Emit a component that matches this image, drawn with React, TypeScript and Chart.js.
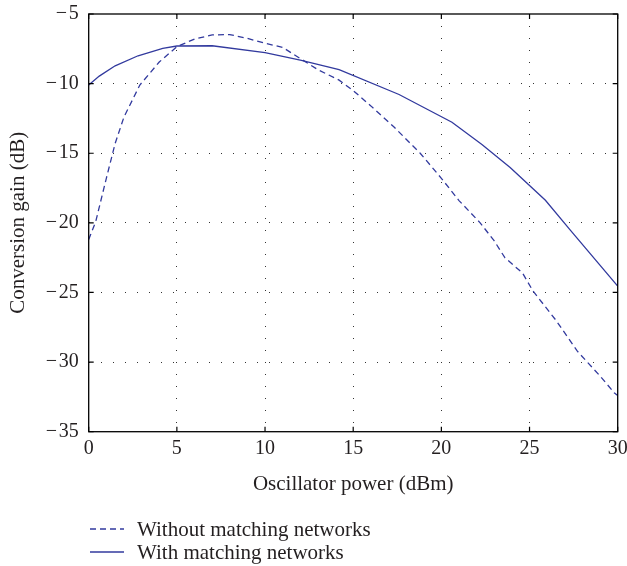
import React, { useEffect, useRef } from "react";
import { Chart, registerables } from "chart.js";

Chart.register(...registerables);

const withoutX = [0, 0.4, 1.0, 1.5, 2.0, 2.9, 4.0, 5.0, 6.0, 7.0, 8.0, 9.0, 10.0, 11.0, 12.0, 13.0, 14.2, 15.0, 16.0, 17.3, 18.8, 20.0, 21.0, 22.2, 23.0, 23.6, 24.6, 25.2, 26.5, 27.7, 29.0, 29.8, 30];
const withoutY = [-21.2, -19.9, -16.8, -14.3, -12.4, -10.1, -8.45, -7.35, -6.8, -6.5, -6.48, -6.75, -7.1, -7.4, -8.2, -9.0, -9.75, -10.5, -11.6, -13.1, -15.0, -16.8, -18.4, -20.0, -21.3, -22.5, -23.6, -24.9, -27.0, -29.2, -31.0, -32.2, -32.4];

const withX = [0, 0.6, 1.5, 2.8, 4.2, 5.0, 7.0, 10.0, 12.0, 14.2, 17.6, 20.6, 22.3, 23.9, 25.9, 27.3, 30];
const withY = [-10.1, -9.46, -8.72, -8.0, -7.47, -7.3, -7.28, -7.78, -8.32, -9.0, -10.78, -12.77, -14.37, -16.03, -18.38, -20.5, -24.55];

const seriesLabels = ["Without matching networks", "With matching networks"];
const xTitle = "Oscillator power (dBm)";
const yTitle = "Conversion gain (dB)";

const LINE = "#323a9e";
const TEXT = "#231f20";
const FONT = "'Liberation Serif', 'Times New Roman', serif";

const fmt = (v: number) => (v < 0 ? "\u2212\u200A" + Math.abs(v) : String(v));

const framePlugin = {
  id: "frame",
  afterDraw(chart: any) {
    const { ctx, chartArea: a, scales } = chart;
    ctx.save();
    ctx.strokeStyle = "#000";
    ctx.lineWidth = 1.3;
    ctx.strokeRect(a.left, a.top, a.right - a.left, a.bottom - a.top);
    const L = 5;
    ctx.lineWidth = 1.2;
    ctx.beginPath();
    scales.x.ticks.forEach((t: any) => {
      const px = scales.x.getPixelForValue(t.value);
      ctx.moveTo(px, a.bottom);
      ctx.lineTo(px, a.bottom - L);
      ctx.moveTo(px, a.top);
      ctx.lineTo(px, a.top + L);
    });
    scales.y.ticks.forEach((t: any) => {
      const py = scales.y.getPixelForValue(t.value);
      ctx.moveTo(a.left, py);
      ctx.lineTo(a.left + L, py);
      ctx.moveTo(a.right, py);
      ctx.lineTo(a.right - L, py);
    });
    ctx.stroke();

    // legend
    chart.data.datasets.forEach((ds: any, i: number) => {
      const y = 529 + i * 23;
      ctx.beginPath();
      ctx.strokeStyle = ds.borderColor;
      ctx.lineWidth = ds.borderWidth;
      ctx.setLineDash(ds.borderDash || []);
      ctx.moveTo(90, y);
      ctx.lineTo(124, y);
      ctx.stroke();
      ctx.setLineDash([]);
      ctx.fillStyle = TEXT;
      ctx.font = `21px ${FONT}`;
      ctx.textBaseline = "middle";
      ctx.textAlign = "left";
      ctx.fillText(ds.label, 137, y + 1);
    });
    ctx.restore();
  },
};

export default function App() {
  const ref = useRef<HTMLCanvasElement>(null);
  useEffect(() => {
    if (!ref.current) return;
    const edgeHide = (min: number, max: number) => (c: any) =>
      c.tick && (c.tick.value === min || c.tick.value === max) ? "rgba(0,0,0,0)" : "#333";
    const chart = new Chart(ref.current, {
      type: "line",
      data: {
        datasets: [
          {
            label: seriesLabels[0],
            data: withoutX.map((x, i) => ({ x, y: withoutY[i] })),
            borderColor: LINE,
            borderWidth: 1.3,
            borderDash: [6, 4],
            pointRadius: 0,
            tension: 0,
            fill: false,
          },
          {
            label: seriesLabels[1],
            data: withX.map((x, i) => ({ x, y: withY[i] })),
            borderColor: LINE,
            borderWidth: 1.3,
            pointRadius: 0,
            tension: 0,
            fill: false,
          },
        ],
      },
      options: {
        responsive: false,
        animation: false,
        devicePixelRatio: 1,
        layout: { padding: { left: 0, right: 9.3, top: 14, bottom: 64.3 } },
        plugins: { legend: { display: false }, tooltip: { enabled: false } },
        scales: {
          x: {
            type: "linear",
            min: 0,
            max: 30,
            ticks: {
              stepSize: 5,
              color: TEXT,
              font: { family: FONT, size: 20 },
              padding: 5,
              maxRotation: 0,
              callback: (v: any) => fmt(Number(v)),
            },
            grid: {
              color: edgeHide(0, 30),
              lineWidth: 1,
              drawTicks: false,
            },
            border: { display: false, dash: [1, 11] },
            title: {
              display: true,
              text: xTitle,
              color: TEXT,
              font: { family: FONT, size: 21 },
              padding: { top: 4, bottom: 5 },
            },
            afterFit: (s: any) => {
              s.height = 70;
              s.paddingLeft = 0;
              s.paddingRight = 0;
            },
          },
          y: {
            type: "linear",
            min: -35,
            max: -5,
            ticks: {
              stepSize: 5,
              color: TEXT,
              font: { family: FONT, size: 20 },
              padding: 10,
              callback: (v: any) => fmt(Number(v)),
            },
            grid: {
              color: edgeHide(-35, -5),
              lineWidth: 1,
              drawTicks: false,
            },
            border: { display: false, dash: [1, 11] },
            title: {
              display: true,
              text: yTitle,
              color: TEXT,
              font: { family: FONT, size: 21 },
              padding: { top: 5.4, bottom: 4 },
            },
            afterFit: (s: any) => {
              s.width = 88.7;
              s.paddingTop = 0;
              s.paddingBottom = 0;
            },
          },
        },
      },
      plugins: [framePlugin],
    } as any);
    return () => chart.destroy();
  }, []);
  return (
    <div style={{ position: "fixed", left: 0, top: 0, width: 627, height: 566, background: "#fff" }}>
      <canvas ref={ref} width={627} height={566} style={{ display: "block" }} />
    </div>
  );
}
